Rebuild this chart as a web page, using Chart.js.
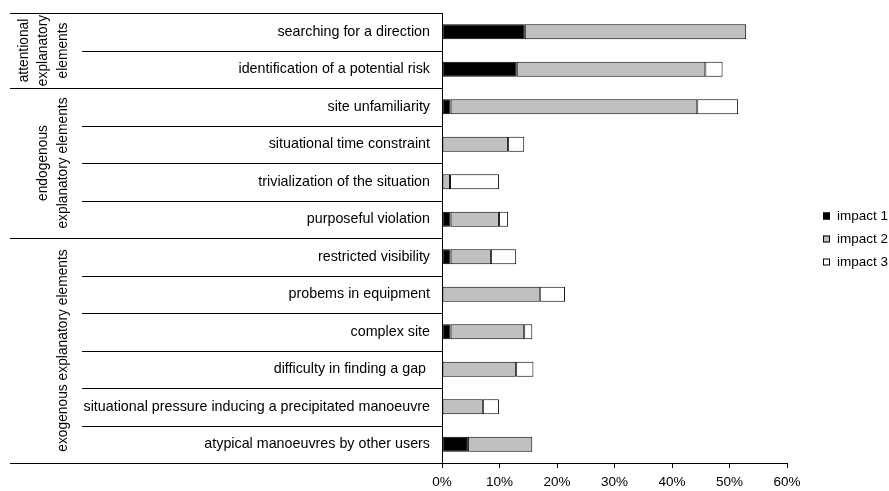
<!DOCTYPE html>
<html>
<head>
<meta charset="utf-8">
<script src="https://cdn.jsdelivr.net/npm/chart.js@4"></script>
<style>
  html, body { margin: 0; padding: 0; background: #fff; }
  #wrap { width: 889px; height: 491px; }
</style>
</head>
<body>
<div id="wrap"><canvas id="myChart" width="889" height="491"></canvas></div>
<script>
const categories = [
    'searching for a direction',
    'identification of a potential risk',
    'site unfamiliarity',
    'situational time constraint',
    'trivialization of the situation',
    'purposeful violation',
    'restricted visibility',
    'probems in equipment',
    'complex site',
    'difficulty in finding a gap ',
    'situational pressure inducing a precipitated manoeuvre',
    'atypical manoeuvres by other users'
];
const impact1 = [14.4, 13.0, 1.5, 0, 0, 1.5, 1.5, 0, 1.5, 0, 0, 4.5];
const impact2 = [38.5, 32.8, 42.9, 11.5, 1.4, 8.4, 7.0, 17.0, 12.8, 12.9, 7.1, 11.2];
const impact3 = [0, 3.0, 7.1, 2.8, 8.5, 1.6, 4.4, 4.4, 1.4, 3.0, 2.8, 0];
const groupLabels = [
    ['attentional', 'explanatory', 'elements'],
    ['endogenous', 'explanatory elements'],
    ['exogenous explanatory elements']
];
const groupSizes = [2, 4, 6]; // number of categories in each group
const xTicks = [0, 10, 20, 30, 40, 50, 60];

const FONT = '"Liberation Sans", Arial, sans-serif';

// table lines + group labels on the left, custom legend on the right
const tablePlugin = {
    id: 'table',
    afterDraw(chart) {
        const c = chart.ctx;
        const ys = chart.scales.y;
        const area = chart.chartArea;
        const n = categories.length;
        const edge = i => {
            if (i === 0) return area.top;
            if (i === n) return area.bottom;
            return (ys.getPixelForValue(i - 1) + ys.getPixelForValue(i)) / 2;
        };
        const groupEdges = [0];
        groupSizes.forEach(s => groupEdges.push(groupEdges[groupEdges.length - 1] + s));

        c.save();
        c.strokeStyle = '#000';
        c.lineWidth = 1;
        for (let i = 0; i <= n; i++) {
            const y = Math.round(edge(i)) + 0.5;
            const x0 = groupEdges.includes(i) ? 10 : 82;
            c.beginPath();
            c.moveTo(x0, y);
            c.lineTo(area.left, y);
            c.stroke();
        }

        c.fillStyle = '#000';
        c.font = '13.8px ' + FONT;
        c.textAlign = 'center';
        c.textBaseline = 'middle';
        groupLabels.forEach((lines, g) => {
            const cy = (edge(groupEdges[g]) + edge(groupEdges[g + 1])) / 2;
            lines.forEach((t, k) => {
                const x = 63 - (lines.length - 1 - k) * 19.5;
                c.save();
                c.translate(x, cy);
                c.rotate(-Math.PI / 2);
                c.fillText(t, 0, 0);
                c.restore();
            });
        });

        // legend
        c.font = '13.5px ' + FONT;
        c.textAlign = 'left';
        chart.data.datasets.forEach((ds, k) => {
            const y = 216 + k * 23;
            c.fillStyle = ds.backgroundColor;
            c.fillRect(823, y - 3.5, 7, 7);
            c.strokeRect(823.5, y - 3, 6, 6);
            c.fillStyle = '#000';
            c.fillText(ds.label, 837, y + 0.5);
        });
        c.restore();
    }
};

const ctx = document.getElementById('myChart').getContext('2d');
new Chart(ctx, {
    type: 'bar',
    data: {
        labels: categories,
        datasets: [
            { label: 'impact 1', data: impact1, backgroundColor: '#000000' },
            { label: 'impact 2', data: impact2, backgroundColor: '#c0c0c0' },
            { label: 'impact 3', data: impact3, backgroundColor: '#ffffff' }
        ].map(d => Object.assign(d, {
            borderColor: '#000',
            borderWidth: 1,
            borderSkipped: false,
            barPercentage: 0.4,
            categoryPercentage: 1
        }))
    },
    options: {
        indexAxis: 'y',
        responsive: false,
        animation: false,
        layout: { padding: { left: 10, top: 13, right: 102, bottom: 3 } },
        plugins: {
            legend: { display: false },
            tooltip: { enabled: false }
        },
        scales: {
            x: {
                stacked: true,
                min: 0,
                max: 60,
                afterBuildTicks: s => { s.ticks = xTicks.map(v => ({ value: v })); },
                afterFit: s => { s.height = 25; s.paddingLeft = 0; s.paddingRight = 0; },
                grid: { drawOnChartArea: false, drawTicks: true, tickLength: 5, color: '#000' },
                border: { display: true, color: '#000' },
                ticks: {
                    padding: 6,
                    color: '#000',
                    font: { family: FONT, size: 13.5 },
                    callback: v => v + '%'
                }
            },
            y: {
                stacked: true,
                afterFit: s => { s.width = 432; s.paddingTop = 0; s.paddingBottom = 0; },
                grid: { display: false, drawTicks: false, tickLength: 0 },
                border: { display: true, color: '#000' },
                ticks: {
                    padding: 12,
                    color: '#000',
                    font: { family: FONT, size: 14.3 }
                }
            }
        }
    },
    plugins: [tablePlugin]
});
</script>
</body>
</html>
